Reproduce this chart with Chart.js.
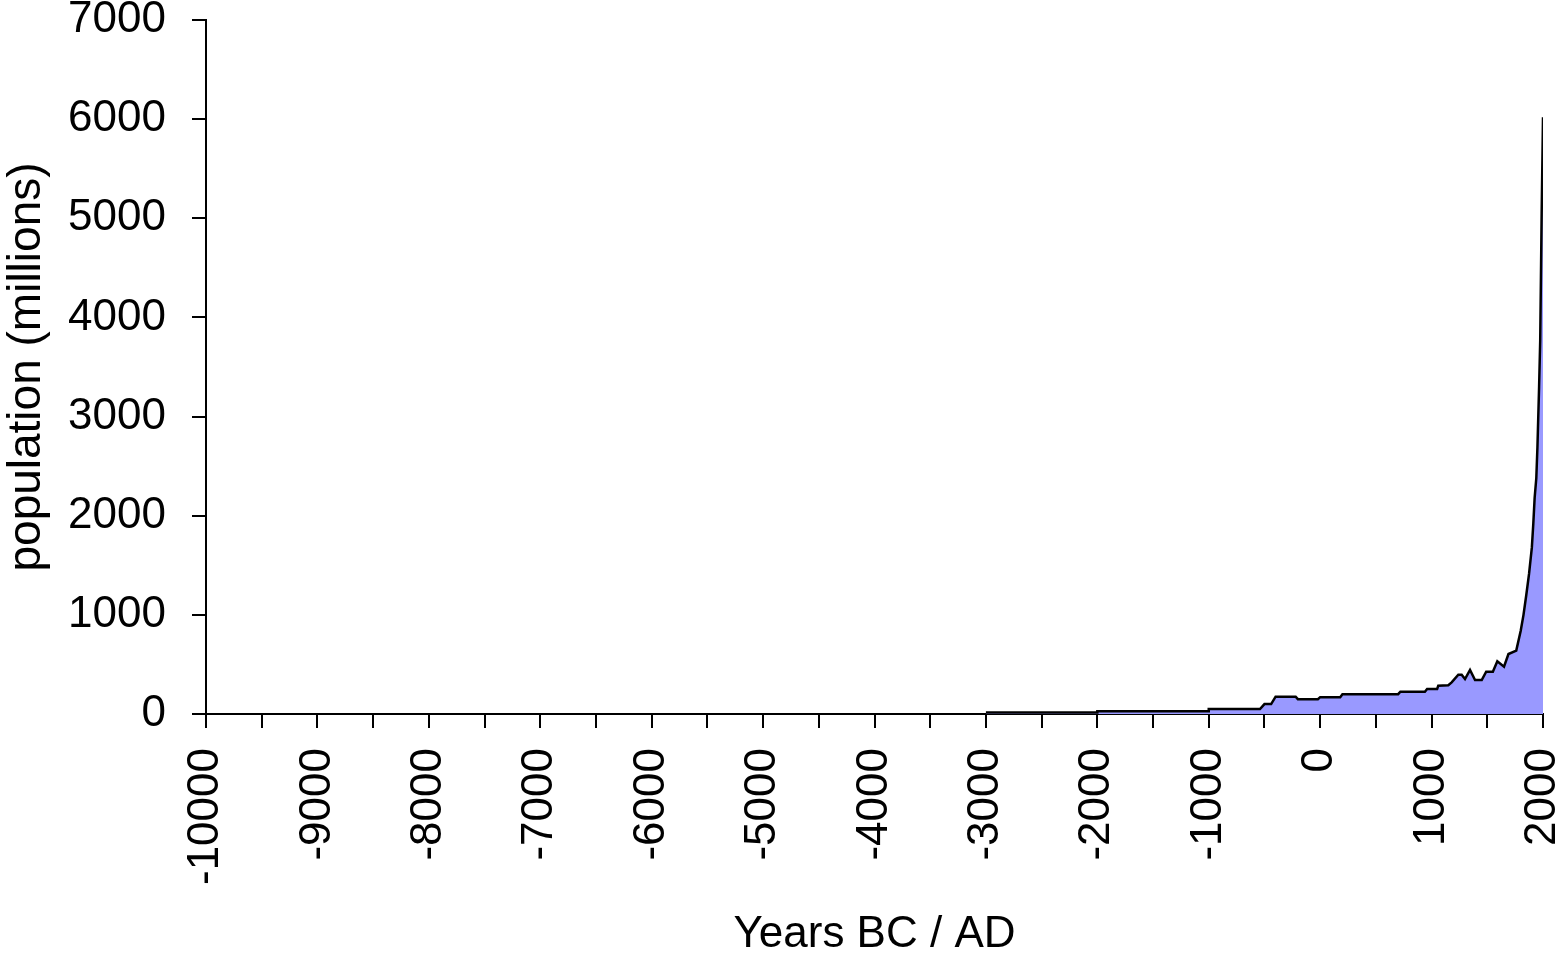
<!DOCTYPE html>
<html>
<head>
<meta charset="utf-8">
<title>World population</title>
<script src="https://cdn.jsdelivr.net/npm/chart.js@4/dist/chart.umd.min.js"></script>
<style>
  html, body { margin: 0; padding: 0; background: #fff; }
  #wrap { width: 1563px; height: 957px; }
</style>
</head>
<body>
<div id="wrap"><canvas id="popChart" width="1563" height="957"></canvas></div>
<script>
// Years BC / AD and population in millions
const years = [
  -3000, -2000, -2000, -1000, -1000, -540, -500, -440, -400, -220,
  -200, -20, 0, 180, 200, 700, 720, 940, 960, 1050,
  1060, 1150, 1180, 1240, 1270, 1300, 1345, 1390, 1450, 1490,
  1550, 1590, 1650, 1690, 1760, 1800, 1825, 1850, 1875, 1900,
  1913, 1925, 1940, 1950, 1965, 1975, 1988, 2000,
];
const population = [
  14, 14, 27, 27, 50, 50, 100, 100, 175, 175,
  150, 150, 170, 170, 200, 200, 225, 225, 252, 252,
  286, 290, 319, 396, 396, 353, 444, 343, 343, 427,
  427, 531, 477, 605, 639, 840, 1000, 1200, 1415, 1680,
  1920, 2180, 2380, 2690, 3300, 3770, 5050, 6020,
];
const xLabels = [-10000, -9000, -8000, -7000, -6000, -5000, -4000, -3000, -2000, -1000, 0, 1000, 2000];
const yLabels = [0, 1000, 2000, 3000, 4000, 5000, 6000, 7000];

const FONT = 'Arial, "Liberation Sans", sans-serif';
const AXIS = {
  grid: { drawOnChartArea: false, drawTicks: true, tickLength: 14, color: '#000', lineWidth: 2 },
  border: { display: true, color: '#000', width: 2 },
};

new Chart(document.getElementById('popChart'), {
  type: 'line',
  data: {
    datasets: [{
      data: years.map((x, i) => ({ x, y: population[i] })),
      fill: 'origin',
      backgroundColor: '#9999ff',
      borderColor: '#000',
      borderWidth: 2.5,
      pointRadius: 0,
      tension: 0,
    }],
  },
  options: {
    responsive: false,
    animation: false,
    layout: { padding: { top: 20, right: 20, left: 0, bottom: 0 } },
    plugins: { legend: { display: false }, tooltip: { enabled: false } },
    scales: {
      x: {
        ...AXIS,
        type: 'linear', min: -10000, max: 2000,
        afterFit: s => { s.height = 243; s.paddingLeft = 0; s.paddingRight = 0; },
        ticks: {
          stepSize: 500, autoSkip: false, minRotation: 90, maxRotation: 90,
          padding: 20, color: '#000', font: { family: FONT, size: 44 },
          callback: v => xLabels.includes(v) ? String(v) : '',
        },
        title: { display: true, text: 'Years BC / AD', color: '#000', padding: 0, font: { family: FONT, size: 44, lineHeight: 1.0 } },
      },
      y: {
        ...AXIS,
        min: 0, max: 7000,
        afterFit: s => { s.width = 206; s.paddingTop = 0; s.paddingBottom = 0; },
        ticks: {
          stepSize: 1000, padding: 26, color: '#000', font: { family: FONT, size: 44 },
          callback: v => yLabels.includes(v) ? String(v) : '',
        },
        title: { display: true, text: 'population (millions)', color: '#000', padding: 0, font: { family: FONT, size: 46 } },
      },
    },
  },
});
</script>
</body>
</html>
